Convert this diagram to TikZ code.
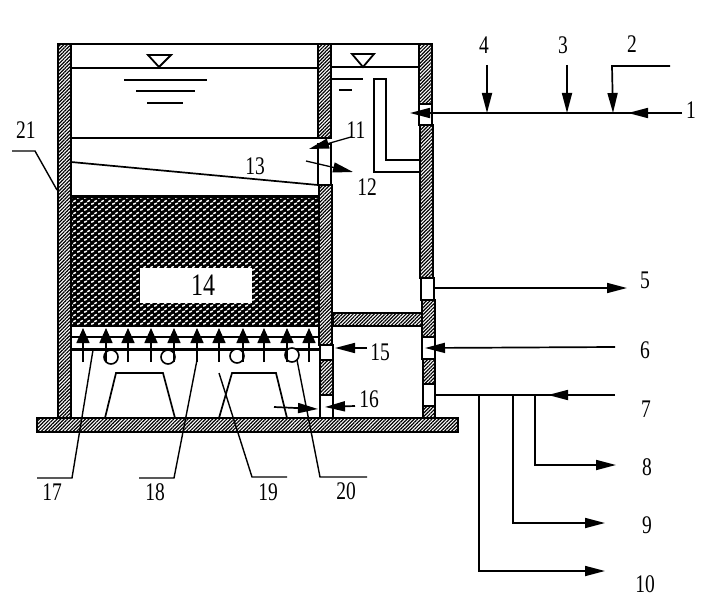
\documentclass[tikz,border=0pt]{standalone}
\usepackage{graphicx}
\usepackage{fontspec}
\setmainfont{Liberation Serif}
\usetikzlibrary{arrows.meta,patterns,patterns.meta}

\pgfdeclarepatternformonly{mediadash}{\pgfqpoint{0pt}{0pt}}{\pgfqpoint{7pt}{6pt}}{\pgfqpoint{7pt}{6pt}}{
  \pgfsetlinewidth{1.7pt}
  \pgfpathmoveto{\pgfqpoint{0.2pt}{0.8pt}}\pgfpathlineto{\pgfqpoint{3.2pt}{2.2pt}}
  \pgfpathmoveto{\pgfqpoint{3.7pt}{3.8pt}}\pgfpathlineto{\pgfqpoint{6.7pt}{5.2pt}}
  \pgfusepath{stroke}
}
\newcommand{\numtxt}[1]{\scalebox{1}[1.3]{#1}}

\tikzset{
  x=1pt,y=-1pt,
  wallseg/.style={draw,line width=2.6pt,pattern={Lines[angle=45,distance=2.5pt,line width=1.2pt]}},
  gapseg/.style={draw,line width=2pt,fill=white},
  pipeline/.style={line width=1.7pt},
  thinline/.style={line width=1.4pt},
  headline/.style={line width=1.7pt,-{Triangle[length=20pt,width=10pt]}},
  num/.style={inner sep=0pt,font=\fontsize{19.5}{20}\selectfont}
}

\begin{document}
\begin{tikzpicture}
\useasboundingbox (0,0) rectangle (709,607);

% media bed
\fill[black] (70,195) rectangle (319,327);
\fill[pattern=mediadash,pattern color=white] (72,198) rectangle (318,324);
\node[fill=white,minimum width=112pt,minimum height=35pt,inner sep=0pt] (box14) at (196,285) {};

% left wall, middle wall, right wall
\draw[wallseg] (58,44) rectangle (71,418);
\draw[wallseg] (318,44) rectangle (331,138);
\draw[gapseg] (318,144) rectangle (331,185);
\draw[wallseg] (319,185) rectangle (332,345);
\draw[gapseg] (320,345) rectangle (333,360);
\draw[wallseg] (320,360) rectangle (333,395);
\draw[gapseg] (320,395) rectangle (333,418);
\draw[wallseg] (419,44) rectangle (432,104);
\draw[gapseg] (419,104) rectangle (432,125);
\draw[wallseg] (420,125) rectangle (433,278);
\draw[gapseg] (421,278) rectangle (434,300);
\draw[wallseg] (422,300) rectangle (435,337);
\draw[gapseg] (422,337) rectangle (435,359);
\draw[wallseg] (423,359) rectangle (435,384);
\draw[gapseg] (423,384) rectangle (435,406);
\draw[wallseg] (423,406) rectangle (435,418);

% slabs
\draw[wallseg] (333,313) rectangle (422,326);
\draw[wallseg] (37,418) rectangle (458,432);

% water and levels
\draw[line width=2pt] (58,44) -- (432,44);
\draw[pipeline] (71,68) -- (318,68);
\draw[pipeline] (331,67) -- (419,67);
\draw[line width=1.8pt] (148,55) -- (171,55) -- (159,67) -- cycle;
\draw[line width=1.8pt] (352,54) -- (374,54) -- (363,67) -- cycle;
\draw[pipeline] (124,80) -- (207,80);
\draw[pipeline] (136,91) -- (195,91);
\draw[thinline] (147,103) -- (183,103);
\draw[pipeline] (71,138) -- (318,138);
\draw[pipeline] (71,162) -- (318,185);
\draw[pipeline] (331,79) -- (363,79);
\draw[pipeline] (339,90) -- (352,90);

% overflow pipe
\draw[pipeline] (420,172) -- (374,172) -- (374,79) -- (386,79) -- (386,160) -- (420,160);

% aeration lines, rings, humps
\draw[line width=2pt] (71,337) -- (319,337);
\draw[line width=3pt] (71,349) -- (320,349);
\foreach \cx/\cy in {111/357,168/357,237/356,292/355}
  \draw[line width=1.6pt,fill=white] (\cx,\cy) circle (7);
\foreach \ax in {83,106,128,151,174,197,219,243,264,287,309}{
  \coordinate (s\ax) at (\ax,362);
  \coordinate (t\ax) at (\ax,328);
  \draw[line width=1.6pt,-{Triangle[length=15pt,width=13pt]}] (s\ax) -- (t\ax);
}
\draw[pipeline] (105,418) -- (116,373) -- (163,373) -- (175,418);
\draw[pipeline] (219,418) -- (232,373) -- (276,373) -- (287,418);

% inlet at the top right
\coordinate (in1) at (682,113);
\coordinate (in1h) at (628,113);
\coordinate (in1s) at (632,113);
\coordinate (j2) at (613,113);
\coordinate (j3) at (567,113);
\coordinate (j4) at (487,113);
\coordinate (inend) at (410,113);
\draw[headline] (in1) -- (in1h);
\draw[headline] (in1s) -- (inend);
\coordinate (up2) at (670,66);
\coordinate (cr2) at (612,66);
\coordinate (up3) at (567,65);
\coordinate (up4) at (487,65);
\draw[headline] (up2) -- (cr2) -- (j2);
\draw[headline] (up3) -- (j3);
\draw[headline] (up4) -- (j4);

% wall openings on the right
\coordinate (out5a) at (434,288);
\coordinate (out5b) at (627,288);
\draw[headline] (out5a) -- (out5b);
\coordinate (in6a) at (615,347);
\coordinate (in6b) at (425,348);
\draw[headline] (in6a) -- (in6b);
\coordinate (in7a) at (615,395);
\coordinate (in7h) at (548,395);
\coordinate (in7s) at (552,395);
\coordinate (in7b) at (434,395);
\draw[headline] (in7a) -- (in7h);
\draw[pipeline] (in7s) -- (in7b);
\coordinate (j8) at (535,395);
\coordinate (c8) at (535,465);
\coordinate (e8) at (616,465);
\draw[headline] (j8) -- (c8) -- (e8);
\coordinate (j9) at (513,395);
\coordinate (c9) at (513,523);
\coordinate (e9) at (605,523);
\draw[headline] (j9) -- (c9) -- (e9);
\coordinate (j10) at (479,395);
\coordinate (c10) at (479,571);
\coordinate (e10) at (605,571);
\draw[headline] (j10) -- (c10) -- (e10);

% arrows at the middle wall
\coordinate (a11) at (351,137);
\coordinate (b11) at (309,149);
\draw[headline,line width=1.3pt] (a11) -- (b11);
\coordinate (a12) at (306,161);
\coordinate (b12) at (353,172);
\draw[headline,line width=1.3pt] (a12) -- (b12);
\coordinate (a15) at (367,348);
\coordinate (b15) at (335,348);
\draw[headline] (a15) -- (b15);
\coordinate (a16) at (355,406);
\coordinate (b16) at (325,407);
\draw[headline] (a16) -- (b16);
\coordinate (a16r) at (274,407);
\coordinate (b16r) at (318,409);
\draw[headline] (a16r) -- (b16r);

% leaders
\coordinate (l21a) at (12,151);
\coordinate (l21b) at (35,151);
\coordinate (l21c) at (57,190);
\draw[thinline] (l21a) -- (l21b) -- (l21c);
\coordinate (l17a) at (93,350);
\coordinate (l17b) at (72,478);
\coordinate (l17c) at (37,478);
\draw[thinline] (l17a) -- (l17b) -- (l17c);
\coordinate (l18a) at (197,360);
\coordinate (l18b) at (174,478);
\coordinate (l18c) at (139,478);
\draw[thinline] (l18a) -- (l18b) -- (l18c);
\coordinate (l19a) at (219,373);
\coordinate (l19b) at (252,477);
\coordinate (l19c) at (287,477);
\draw[thinline] (l19a) -- (l19b) -- (l19c);
\coordinate (l20a) at (297,360);
\coordinate (l20b) at (320,477);
\coordinate (l20c) at (367,477);
\draw[thinline] (l20a) -- (l20b) -- (l20c);

% numbers
\node[num] (n1) at (691,110) {\numtxt{1}};
\node[num] (n2) at (632,44) {\numtxt{2}};
\node[num] (n3) at (563,45) {\numtxt{3}};
\node[num] (n4) at (484,45) {\numtxt{4}};
\node[num] (n5) at (645,280) {\numtxt{5}};
\node[num] (n6) at (645,350) {\numtxt{6}};
\node[num] (n7) at (646,409) {\numtxt{7}};
\node[num] (n8) at (647,467) {\numtxt{8}};
\node[num] (n9) at (647,525) {\numtxt{9}};
\node[num] (n10) at (645,584) {\numtxt{10}};
\node[num] (n11) at (356,130) {\numtxt{11}};
\node[num] (n12) at (367,187) {\numtxt{12}};
\node[num] (n13) at (255,166) {\numtxt{13}};
\node[num,font=\fontsize{24}{24}\selectfont] at (203,285) {\numtxt{14}};
\node[num] (n15) at (380,352) {\numtxt{15}};
\node[num] (n16) at (369,399) {\numtxt{16}};
\node[num] (n17) at (52,492) {\numtxt{17}};
\node[num] (n18) at (155,492) {\numtxt{18}};
\node[num] (n19) at (268,492) {\numtxt{19}};
\node[num] (n20) at (346,491) {\numtxt{20}};
\node[num] (n21) at (26,130) {\numtxt{21}};
\end{tikzpicture}
\end{document}
